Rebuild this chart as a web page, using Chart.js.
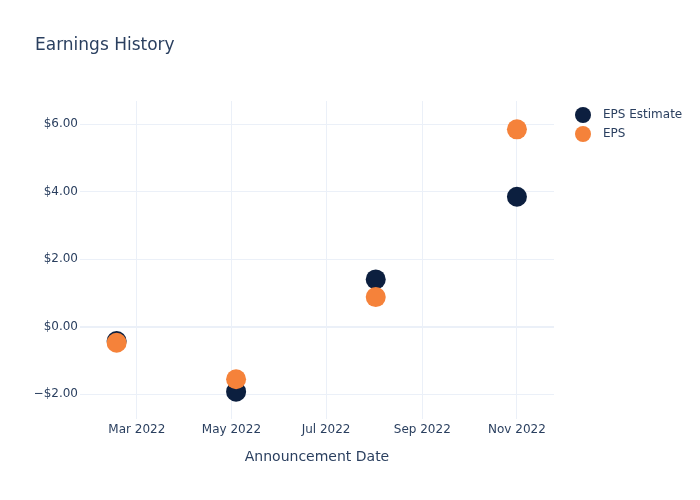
<!DOCTYPE html>
<html>
<head>
<meta charset="utf-8">
<script src="https://cdn.jsdelivr.net/npm/chart.js@4.4.1/dist/chart.umd.min.js"></script>
<style>
  html, body { margin: 0; padding: 0; background: #fff; }
  #wrap { width: 700px; height: 500px; }
</style>
</head>
<body>
<div id="wrap"><canvas id="c" width="700" height="500"></canvas></div>
<script>
// ---- data ----
const announcementDates = ['2022-02-16', '2022-05-04', '2022-08-02', '2022-11-01'];
const epsEstimate = [-0.43, -1.93, 1.40, 3.85];
const epsActual = [-0.48, -1.56, 0.875, 5.85];
const seriesNames = ['EPS Estimate', 'EPS'];
const xTickDates = ['2022-03-01', '2022-05-01', '2022-07-01', '2022-09-01', '2022-11-01'];
const xTickLabels = ['Mar 2022', 'May 2022', 'Jul 2022', 'Sep 2022', 'Nov 2022'];
const yTickValues = [-2, 0, 2, 4, 6];
const xRange = ['2022-01-23T09:30:00Z', '2022-11-24T21:30:00Z'];
const yRange = [-2.74, 6.69];

// ---- helpers ----
const toMs = s => Date.parse(s.length === 10 ? s + 'T00:00:00Z' : s);
const pts = vals => vals.map((v, i) => ({ x: toMs(announcementDates[i]), y: v }));
const fmtMoney = v => (v < 0 ? '\u2212$' : '$') + Math.abs(v).toFixed(2);

const FONT = "'DejaVu Sans', Verdana, sans-serif";
const TXT = '#2a3f5f';
const GRID = '#ebf0f8';
const NAVY = '#0c1f3f';
const ORANGE = '#f5823a';

const legendPlugin = {
  id: 'sideLegend',
  afterDraw(chart, args, opts) {
    const ctx = chart.ctx;
    ctx.save();
    ctx.font = '12px ' + FONT;
    ctx.textBaseline = 'middle';
    ctx.textAlign = 'left';
    chart.data.datasets.forEach((ds, i) => {
      const y = opts.y + i * opts.step;
      ctx.beginPath();
      ctx.arc(opts.x, y, opts.r, 0, Math.PI * 2);
      ctx.fillStyle = ds.backgroundColor;
      ctx.fill();
      ctx.fillStyle = TXT;
      ctx.fillText(ds.label, opts.x + opts.gap, y);
    });
    ctx.restore();
  }
};

new Chart(document.getElementById('c'), {
  type: 'scatter',
  data: {
    datasets: [
      { label: seriesNames[0], data: pts(epsEstimate), backgroundColor: NAVY, borderColor: NAVY,
        pointRadius: 10, pointHoverRadius: 10, borderWidth: 0, order: 1 },
      { label: seriesNames[1], data: pts(epsActual), backgroundColor: ORANGE, borderColor: ORANGE,
        pointRadius: 10, pointHoverRadius: 10, borderWidth: 0, order: 0 }
    ]
  },
  options: {
    responsive: false,
    animation: false,
    devicePixelRatio: 1,
    layout: { padding: { left: 35, right: 146, top: 0, bottom: 0 } },
    plugins: {
      legend: { display: false },
      tooltip: { enabled: false },
      title: {
        display: true, text: 'Earnings History', align: 'start',
        color: TXT, font: { family: FONT, size: 17, weight: 'normal', lineHeight: 1.2 },
        padding: { top: 35.8, bottom: 44.8 }
      },
      sideLegend: { x: 583, y: 115, step: 19, r: 8, gap: 20 }
    },
    scales: {
      x: {
        type: 'linear',
        min: toMs(xRange[0]), max: toMs(xRange[1]),
        afterBuildTicks: s => { s.ticks = xTickDates.map(d => ({ value: toMs(d) })); },
        afterFit: s => { s.height = 81; },
        ticks: {
          autoSkip: false, maxRotation: 0, minRotation: 0, padding: 4,
          color: TXT, font: { family: FONT, size: 12 },
          callback: (v) => { const i = xTickDates.findIndex(d => toMs(d) === v); return i >= 0 ? xTickLabels[i] : ''; }
        },
        grid: { color: GRID, lineWidth: 1, drawTicks: false },
        border: { display: false },
        title: {
          display: true, text: 'Announcement Date', color: TXT,
          font: { family: FONT, size: 14, lineHeight: 1.2 },
          padding: { top: 0, bottom: 34.6 }
        }
      },
      y: {
        type: 'linear',
        min: yRange[0], max: yRange[1],
        afterBuildTicks: s => { s.ticks = yTickValues.map(v => ({ value: v })); },
        afterFit: s => { s.width = 45; },
        ticks: {
          autoSkip: false, padding: 2, color: TXT, font: { family: FONT, size: 12 },
          callback: v => fmtMoney(v)
        },
        grid: {
          color: GRID, drawTicks: false,
          lineWidth: c => (c.tick && c.tick.value === 0 ? 2 : 1)
        },
        border: { display: false }
      }
    }
  },
  plugins: [legendPlugin]
});
</script>
</body>
</html>
